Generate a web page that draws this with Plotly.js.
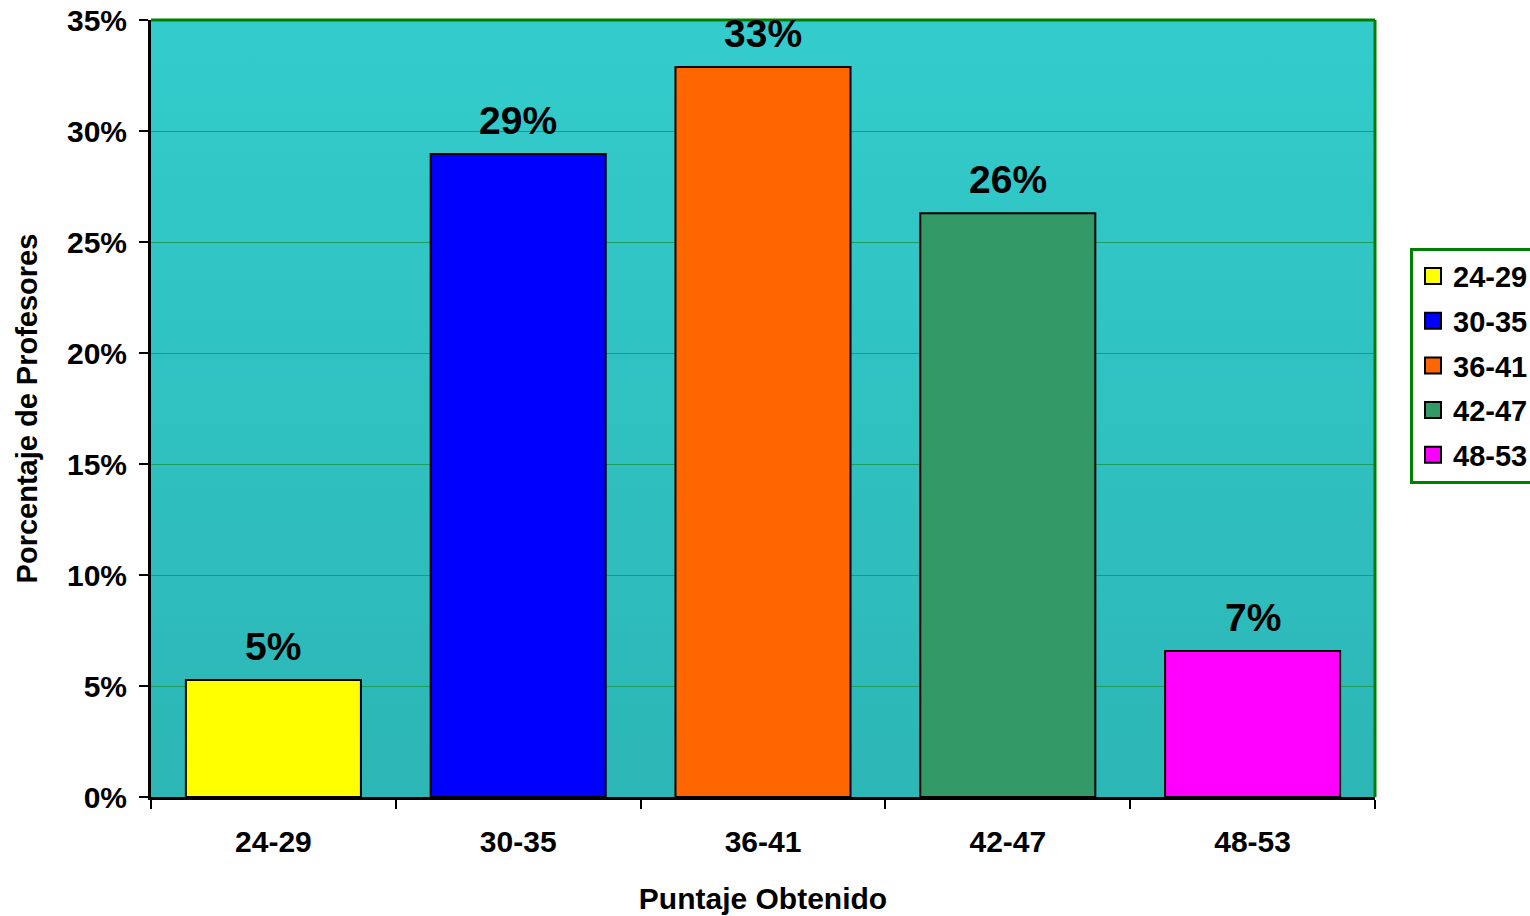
<!DOCTYPE html>
<html>
<head>
<meta charset="utf-8">
<script src="https://cdn.plot.ly/plotly-3.0.1.min.js"></script>
<style>html,body{margin:0;padding:0;background:#fff;}#chart{width:1530px;height:916px;}</style>
</head>
<body>
<div id="chart"></div>
<script>
const categories = ["24-29", "30-35", "36-41", "42-47", "48-53"];
const values = [0.0527, 0.2896, 0.3288, 0.2630, 0.0658];
const colors = ["#FFFF00", "#0000FF", "#FF6600", "#339966", "#FF00FF"];
const yTicks = [0, 0.05, 0.10, 0.15, 0.20, 0.25, 0.30, 0.35];

const FONT = "Liberation Sans, Arial, sans-serif";

const barTraces = categories.map((c, i) => ({
  type: "bar",
  name: c,
  x: [c],
  y: [values[i]],
  marker: { color: colors[i], line: { color: "#000000", width: 2 } },
  width: 0.715,
  showlegend: false,
  hoverinfo: "skip"
}));

const legendTraces = categories.map((c, i) => ({
  type: "scatter",
  mode: "markers",
  name: c,
  x: [null],
  y: [null],
  marker: { symbol: "square", size: 16, color: colors[i], line: { color: "#000", width: 2 } },
  legendgroup: "g" + i,
  showlegend: true,
  hoverinfo: "skip"
}));

const labelAnnotations = categories.map((c, i) => ({
  x: c, y: values[i], xref: "x", yref: "y",
  text: Math.round(values[i] * 100) + "%",
  showarrow: false, yanchor: "bottom", yshift: 10,
  font: { family: FONT, size: 39, color: "#000", weight: "bold" }
}));

const gradSvg = '<svg xmlns="http://www.w3.org/2000/svg" width="10" height="100" preserveAspectRatio="none"><defs><linearGradient id="g" x1="0" y1="0" x2="0" y2="1"><stop offset="0" stop-color="#33CCCC"/><stop offset="1" stop-color="#2DB6B6"/></linearGradient></defs><rect width="10" height="100" fill="url(#g)"/></svg>';
const gradUri = "data:image/svg+xml;base64," + btoa(gradSvg);

const layout = {
  width: 1530, height: 916,
  margin: { l: 151, r: 155, t: 20, b: 119, autoexpand: false },
  paper_bgcolor: "#ffffff",
  plot_bgcolor: "rgba(0,0,0,0)",
  barmode: "overlay",
  font: { family: FONT, color: "#000" },
  images: [{
    source: gradUri, xref: "paper", yref: "paper", x: 0, y: 1,
    sizex: 1, sizey: 1, sizing: "stretch", layer: "below", xanchor: "left", yanchor: "top"
  }],
  xaxis: {
    type: "category",
    categoryarray: categories,
    tickson: "boundaries",
    ticks: "outside", ticklen: 9, tickwidth: 2, tickcolor: "#000",
    ticklabelstandoff: 16,
    showline: true, linecolor: "#000", linewidth: 3,
    showgrid: false, zeroline: false,
    tickfont: { family: FONT, size: 30, weight: "bold" },
    title: { text: "Puntaje Obtenido", font: { family: FONT, size: 30, weight: "bold" }, standoff: 31 },
    automargin: false
  },
  yaxis: {
    range: [0, 0.35],
    tickvals: yTicks,
    tickformat: ".0%",
    ticks: "outside", ticklen: 9, tickwidth: 2, tickcolor: "#000",
    ticklabelstandoff: 6,
    showline: true, linecolor: "#000", linewidth: 3,
    showgrid: true, gridcolor: "#1E9E5E", gridwidth: 1,
    zeroline: false,
    tickfont: { family: FONT, size: 30, weight: "bold" },
    title: { text: "Porcentaje de Profesores", font: { family: FONT, size: 29, weight: "bold" }, standoff: 21 },
    automargin: false
  },
  annotations: labelAnnotations,
  shapes: [
    { type: "line", xref: "paper", yref: "paper", x0: 0, x1: 1, y0: 1, y1: 1, line: { color: "#008000", width: 3 } },
    { type: "line", xref: "paper", yref: "paper", x0: 1, x1: 1, y0: 0, y1: 1, line: { color: "#008000", width: 3 } }
  ],
  showlegend: true,
  legend: {
    x: 1.0286, y: 0.707, xanchor: "left", yanchor: "top",
    bgcolor: "#ffffff", bordercolor: "#008000", borderwidth: 3,
    font: { family: FONT, size: 29, weight: "bold", color: "#000" },
    tracegroupgap: 4,
    itemwidth: 30,
    traceorder: "grouped"
  }
};

Plotly.newPlot("chart", barTraces.concat(legendTraces), layout, { displayModeBar: false, staticPlot: true });
</script>
</body>
</html>
